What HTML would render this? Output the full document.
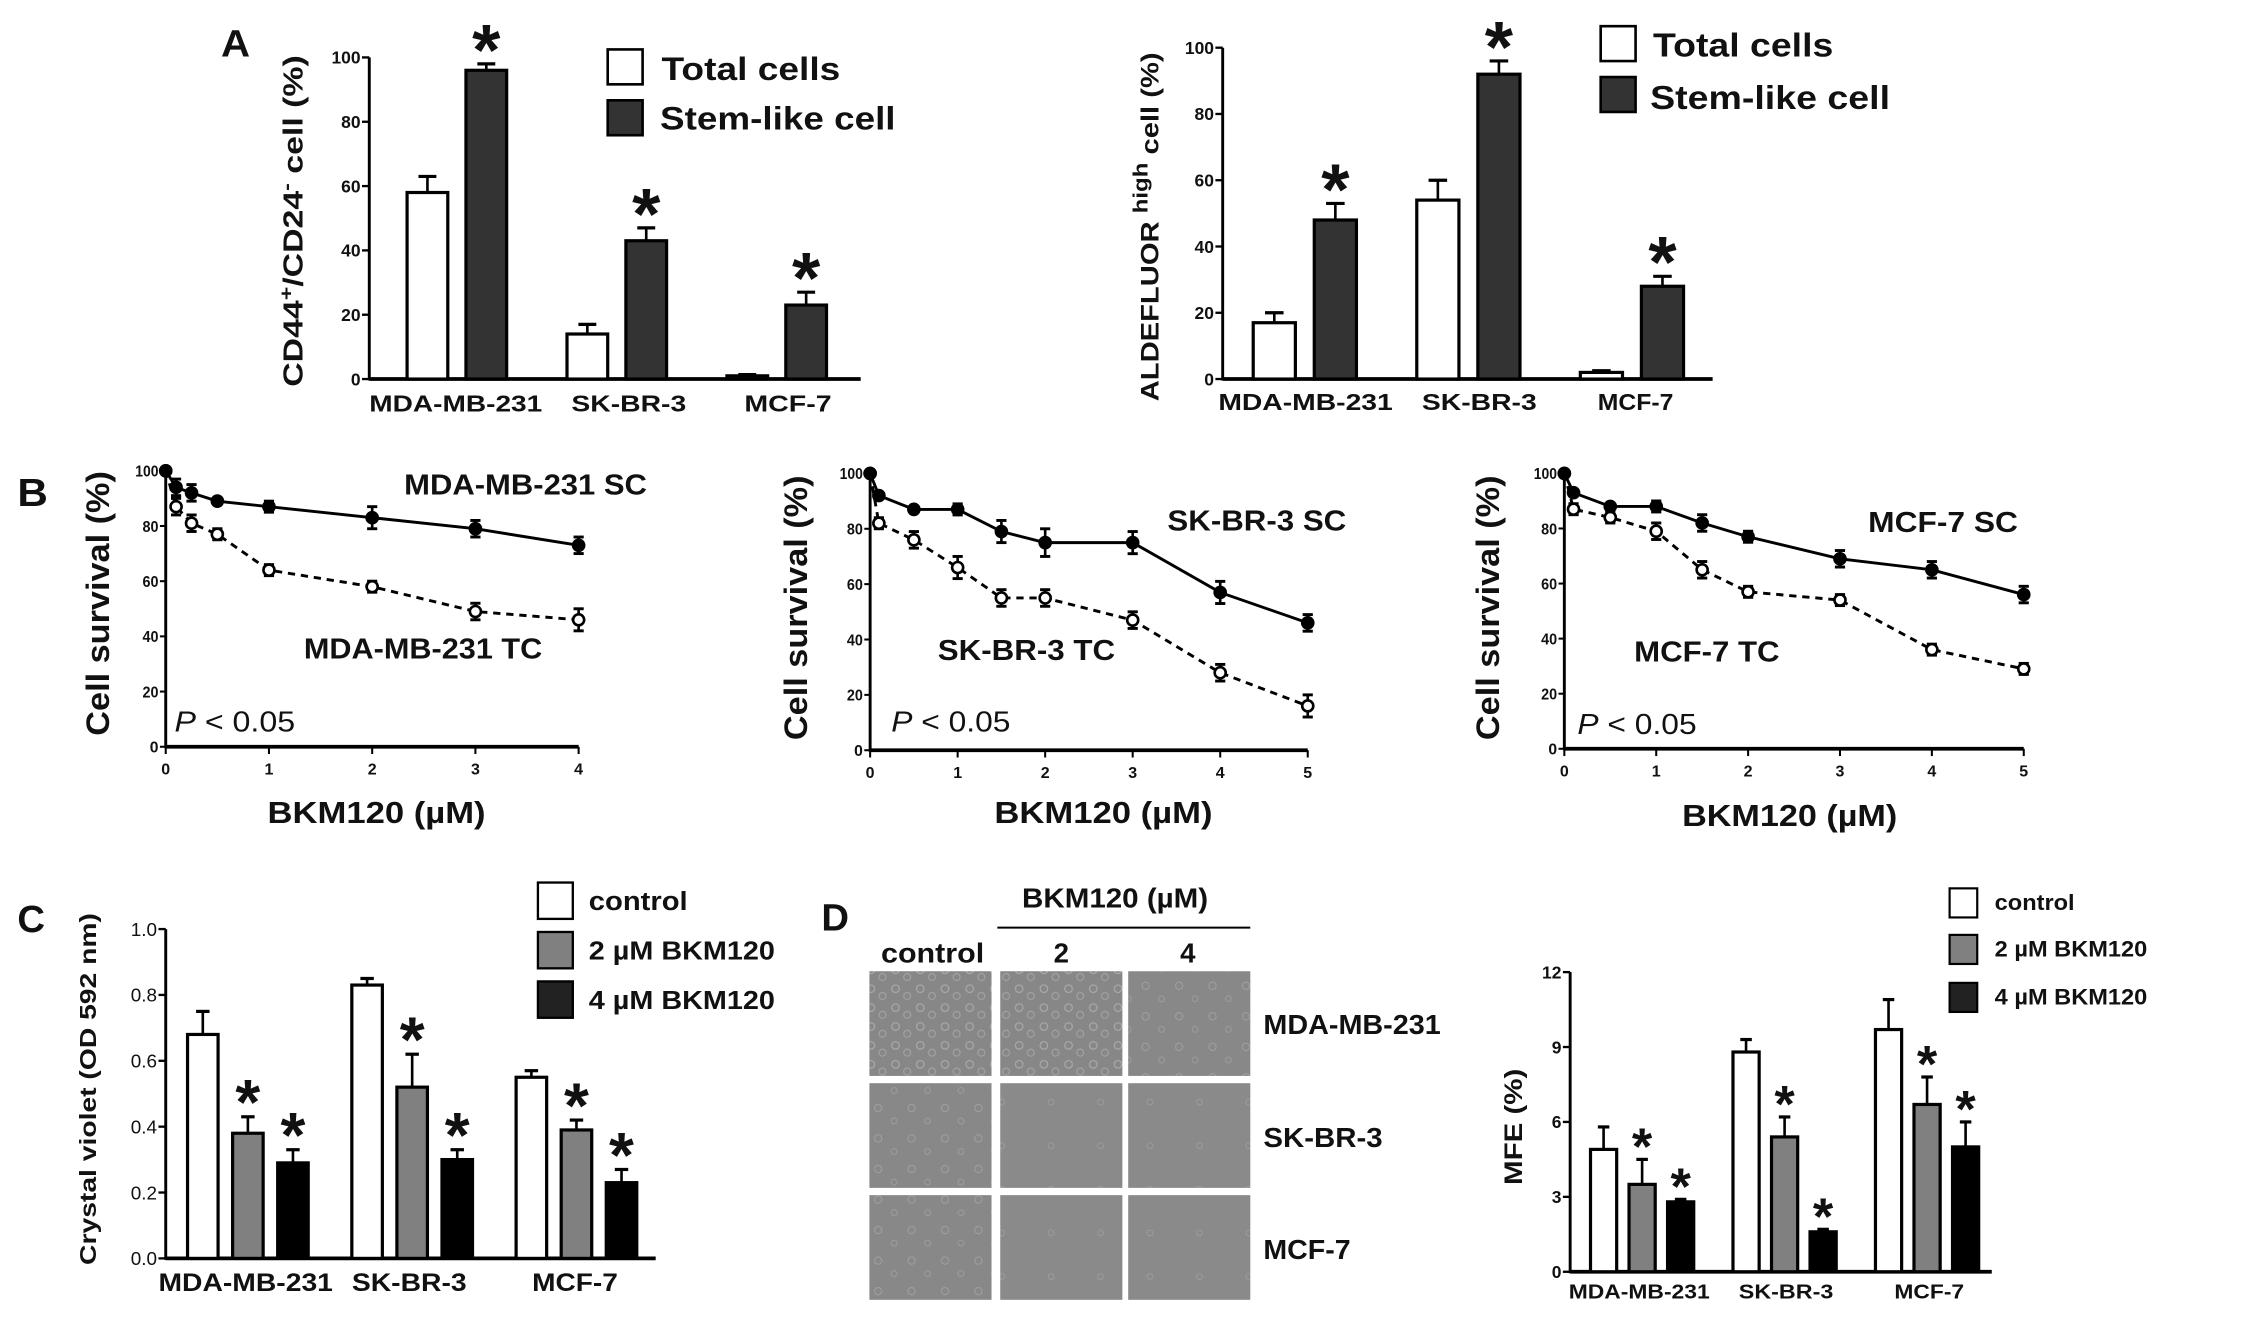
<!DOCTYPE html>
<html><head><meta charset="utf-8">
<style>
html,body{margin:0;padding:0;background:#fff;}
svg{display:block;}
text{font-family:"Liberation Sans",Arial,sans-serif;fill:#111;}
</style></head>
<body>
<svg id="fig" xmlns="http://www.w3.org/2000/svg" width="2268" height="1326" viewBox="0 0 1560 912" preserveAspectRatio="none">
<defs>
<pattern id="cellsA" width="17" height="13" patternUnits="userSpaceOnUse">
<rect width="17" height="13" fill="#878787"/>
<circle cx="4" cy="4" r="2.6" fill="none" stroke="#aaaaaa" stroke-width="0.8"/>
<circle cx="12" cy="9" r="2.4" fill="none" stroke="#a2a2a2" stroke-width="0.8"/>
</pattern>
<pattern id="cellsB" width="23" height="21" patternUnits="userSpaceOnUse">
<rect width="23" height="21" fill="#888888"/>
<circle cx="6" cy="6" r="2.5" fill="none" stroke="#a0a0a0" stroke-width="0.7"/>
<circle cx="17" cy="15" r="2" fill="none" stroke="#9c9c9c" stroke-width="0.7"/>
</pattern>
<pattern id="cellsC" width="34" height="30" patternUnits="userSpaceOnUse">
<rect width="34" height="30" fill="#8a8a8a"/>
<circle cx="9" cy="8" r="2" fill="none" stroke="#9e9e9e" stroke-width="0.6"/>
</pattern>
</defs>
</svg>
<script>
// ---------- DATA ----------
const catNames = ['MDA-MB-231','SK-BR-3','MCF-7'];
const aTicks = [0,20,40,60,80,100];
const a1Total = [58,14,1];
const a1TotalErr = [5,3,0.4];
const a1Stem = [96,43,23];
const a1StemErr = [2,4,4];
const a2Total = [17,54,2];
const a2TotalErr = [3,6,0.5];
const a2Stem = [48,92,28];
const a2StemErr = [5,4,3];

const bTicksY = [0,20,40,60,80,100];
const b1Dose = [0,0.1,0.25,0.5,1,2,3,4];
const b1SC = [100,94,92,89,87,83,79,73];
const b1SCErr = [1,3,3,1,2,4,3,3];
const b1TC = [100,87,81,77,64,58,49,46];
const b1TCErr = [1,3,3,2,2,2,3,4];
const b1TicksX = [0,1,2,3,4];
const b2Dose = [0,0.1,0.5,1,1.5,2,3,4,5];
const b2SC = [100,92,87,87,79,75,75,57,46];
const b2SCErr = [1,1,1,2,4,5,4,4,3];
const b2TC = [100,82,76,66,55,55,47,28,16];
const b2TCErr = [1,2,3,4,3,3,3,3,4];
const b3Dose = [0,0.1,0.5,1,1.5,2,3,4,5];
const b3SC = [100,93,88,88,82,77,69,65,56];
const b3SCErr = [1,1,1,2,3,2,3,3,3];
const b3TC = [100,87,84,79,65,57,54,36,29];
const b3TCErr = [1,2,2,3,3,2,2,2,2];
const b23TicksX = [0,1,2,3,4,5];

const cTicks = [0,0.2,0.4,0.6,0.8,1.0];
const cTickLabels = ['0.0','0.2','0.4','0.6','0.8','1.0'];
const cControl = [0.68,0.83,0.55];
const cControlErr = [0.07,0.02,0.02];
const c2uM = [0.38,0.52,0.39];
const c2uMErr = [0.05,0.10,0.03];
const c4uM = [0.29,0.30,0.23];
const c4uMErr = [0.04,0.03,0.04];

const dTicks = [0,3,6,9,12];
const dControl = [4.9,8.8,9.7];
const dControlErr = [0.9,0.5,1.2];
const d2uM = [3.5,5.4,6.7];
const d2uMErr = [1.0,0.8,1.1];
const d4uM = [2.8,1.6,5.0];
const d4uMErr = [0.1,0.1,1.0];

// ---------- HELPERS ----------
const NS = 'http://www.w3.org/2000/svg';
const svg = document.getElementById('fig');
function mk(tag, attrs, parent){
  const e = document.createElementNS(NS, tag);
  for (const k in attrs) e.setAttribute(k, attrs[k]);
  (parent || svg).appendChild(e);
  return e;
}
function txt(parent, name, str, x, y, size, o){
  o = o || {};
  const a = {x:x, y:y, 'font-size':size, 'font-weight':o.w || 'bold'};
  if (o.anchor) a['text-anchor'] = o.anchor;
  if (o.len) { a.textLength = o.len; a.lengthAdjust = 'spacingAndGlyphs'; }
  if (o.rot) a.transform = 'rotate(-90 ' + x + ' ' + y + ')';
  if (o.italic) a['font-style'] = 'italic';
  const t = mk('text', a, parent);
  
  
  t.textContent = str;
  return t;
}
function group(name){
  const g = mk('g', {});
  
  
  return g;
}
function line(parent, name, x1, y1, x2, y2, w, dash){
  const a = {x1:x1, y1:y1, x2:x2, y2:y2, stroke:'#000', 'stroke-width':w || 2};
  if (dash) a['stroke-dasharray'] = dash;
  const l = mk('line', a, parent);
  
  
  return l;
}

// ---------- BAR CHART ----------
function barChart(name, cfg, series){
  const g = group(name);
  const ys = v => cfg.y0 - v / cfg.max * (cfg.y0 - cfg.yTop);
  const xb = (gi, si) => cfg.axisX + cfg.offset + gi * cfg.groupStep + si * cfg.barStep;
  line(g, 'y-axis', cfg.axisX, cfg.y0 + 1, cfg.axisX, cfg.yTop, 2);
  line(g, 'x-axis', cfg.axisX, cfg.y0, cfg.axisEnd, cfg.y0, 2.6);
  cfg.ticks.forEach((t, i) => {
    const y = ys(t);
    line(g, 'y-tick', cfg.axisX - 5, y, cfg.axisX, y, 1.6);
    txt(g, 'y-tick-label', cfg.tickLabels ? cfg.tickLabels[i] : String(t), cfg.axisX - 6, y + cfg.tickSize * 0.36, cfg.tickSize, {anchor:'end', w:cfg.tickWeight || 'bold'});
  });
  series.forEach((s, si) => {
    s.vals.forEach((v, gi) => {
      const x = xb(gi, si);
      const yt = ys(v);
      const ye = ys(v + s.errs[gi]);
      const cx = x + cfg.barW / 2;
      line(g, 'error-bar', cx, yt, cx, ye, 1.8);
      line(g, 'error-cap', cx - cfg.barW * 0.22, ye, cx + cfg.barW * 0.22, ye, 2.2);
      const r = mk('rect', {x:x, y:yt, width:cfg.barW, height:Math.max(cfg.y0 - yt, 1.5), fill:s.fill, stroke:'#000', 'stroke-width':2.2}, g);
      
      
      if (s.stars) {
        txt(g, 'significance-star', '*', cx, ye - cfg.starGap + cfg.starSize * 0.57, cfg.starSize, {anchor:'middle'});
      }
    });
  });
  catNames.forEach((c, i) => {
    txt(g, 'category-label', c, cfg.catX[i], cfg.catY, cfg.catSize, {len:cfg.catW[i]});
  });
  return g;
}

// ---------- LINE CHART ----------
function lineChart(name, cfg, dose, sc, scErr, tc, tcErr, xt){
  const g = group(name);
  const xs = d => cfg.axisX + d / cfg.xmax * (cfg.xEnd - cfg.axisX);
  const ys = v => cfg.y0 - v / 100 * (cfg.y0 - cfg.yTop);
  line(g, 'y-axis', cfg.axisX, cfg.y0 + 1, cfg.axisX, cfg.yTop, 2);
  line(g, 'x-axis', cfg.axisX, cfg.y0, cfg.xEnd, cfg.y0, 2.6);
  bTicksY.forEach(t => {
    const y = ys(t);
    line(g, 'y-tick', cfg.axisX - 4, y, cfg.axisX, y, 1.4);
    txt(g, 'y-tick-label', String(t), cfg.axisX - 5, y + 4, 11, {anchor:'end', len: t === 100 ? 16 : (t === 0 ? 6 : 11)});
  });
  xt.forEach(t => {
    const x = xs(t);
    line(g, 'x-tick', x, cfg.y0, x, cfg.y0 + 5, 1.4);
    txt(g, 'x-tick-label', String(t), x, cfg.y0 + 19, 11, {anchor:'middle'});
  });
  const drawSeries = (vals, errs, dash, open, key) => {
    const pts = dose.map((d, i) => xs(d) + ',' + ys(vals[i])).join(' ');
    const pl = mk('polyline', {points:pts, fill:'none', stroke:'#000', 'stroke-width':2, 'stroke-dasharray':dash || 'none'}, g);
    
    
    dose.forEach((d, i) => {
      const x = xs(d), y = ys(vals[i]);
      const y1 = ys(vals[i] + errs[i]), y2 = ys(vals[i] - errs[i]);
      line(g, 'error-bar', x, y1, x, y2, 1.8);
      line(g, 'error-cap', x - 3.5, y1, x + 3.5, y1, 2);
      line(g, 'error-cap', x - 3.5, y2, x + 3.5, y2, 2);
      const c = mk('circle', {cx:x, cy:y, r:3.8, fill: open ? '#fff' : '#000', stroke:'#000', 'stroke-width':1.8}, g);
      
      
    });
  };
  drawSeries(tc, tcErr, '5,4', true, 'tc');
  drawSeries(sc, scErr, null, false, 'sc');
  return g;
}

// ---------- PANEL A ----------
txt(svg, 'panel-label-a', 'A', 152, 39, 26, {len:20});
const a1 = barChart('chart-a-cd44', {axisX:254, axisEnd:592, y0:260.7, yTop:39.5, max:100, ticks:aTicks, tickSize:12,
  offset:26, barStep:40.5, groupStep:110, barW:28, starGap:21, starSize:50,
  catX:[254,393,512], catW:[119,79,60], catY:283, catSize:16},
  [{key:'total', vals:a1Total, errs:a1TotalErr, fill:'#fff', stars:false},
   {key:'stem', vals:a1Stem, errs:a1StemErr, fill:'#333', stars:true}]);
(function(){
  const t = txt(a1, 'y-axis-title', '', 208, 266, 19, {rot:true, len:228});
  t.innerHTML = 'CD44<tspan baseline-shift="super" font-size="13">+</tspan>/CD24<tspan baseline-shift="super" font-size="13">-</tspan> cell (%)';
})();
(function(){
  const g = group('legend-a1');
  let r = mk('rect', {x:418, y:34, width:24, height:24, fill:'#fff', stroke:'#000', 'stroke-width':1.8}, g);
  
  
  r = mk('rect', {x:418, y:69, width:24, height:24, fill:'#333', stroke:'#000', 'stroke-width':1.8}, g);
  
  
  txt(g, 'legend-label-total', 'Total cells', 455, 55, 22, {len:123});
  txt(g, 'legend-label-stem', 'Stem-like cell', 454, 89, 22, {len:162});
})();

const a2 = barChart('chart-a-aldefluor', {axisX:841, axisEnd:1178, y0:260.7, yTop:32.8, max:100, ticks:aTicks, tickSize:12,
  offset:21, barStep:42, groupStep:112.5, barW:29, starGap:21, starSize:50,
  catX:[838,978,1099], catW:[120,79,52], catY:282, catSize:16},
  [{key:'total', vals:a2Total, errs:a2TotalErr, fill:'#fff', stars:false},
   {key:'stem', vals:a2Stem, errs:a2StemErr, fill:'#333', stars:true}]);
(function(){
  const t = txt(a2, 'y-axis-title', '', 797, 276, 17, {rot:true, len:240});
  t.innerHTML = 'ALDEFLUOR <tspan baseline-shift="super" font-size="14">high</tspan> cell (%)';
})();
(function(){
  const g = group('legend-a2');
  let r = mk('rect', {x:1101, y:18, width:24, height:24, fill:'#fff', stroke:'#000', 'stroke-width':1.8}, g);
  
  
  r = mk('rect', {x:1101, y:53, width:24, height:24, fill:'#333', stroke:'#000', 'stroke-width':1.8}, g);
  
  
  txt(g, 'legend-label-total', 'Total cells', 1137, 39, 23, {len:124});
  txt(g, 'legend-label-stem', 'Stem-like cell', 1135, 75, 23, {len:165});
})();

// ---------- PANEL B ----------
txt(svg, 'panel-label-b', 'B', 12, 348, 27, {len:21});
const b1 = lineChart('chart-b-mda', {axisX:114, xEnd:398, xmax:4, y0:513.6, yTop:323.8}, b1Dose, b1SC, b1SCErr, b1TC, b1TCErr, b1TicksX);
txt(b1, 'y-axis-title', 'Cell survival (%)', 75, 506, 22, {rot:true, len:182});
txt(b1, 'series-label-sc', 'MDA-MB-231 SC', 278, 340, 20, {len:167});
txt(b1, 'series-label-tc', 'MDA-MB-231 TC', 209, 453, 20, {len:164});
(function(){ const t = txt(b1, 'p-value', '', 120, 503, 20, {w:'normal', len:83}); t.innerHTML = '<tspan font-style="italic">P</tspan> &lt; 0.05'; })();
txt(b1, 'x-axis-title', 'BKM120 (µM)', 184, 566, 21, {len:150});

const b2 = lineChart('chart-b-skbr3', {axisX:598.5, xEnd:899.5, xmax:5, y0:516, yTop:325.6}, b2Dose, b2SC, b2SCErr, b2TC, b2TCErr, b23TicksX);
txt(b2, 'y-axis-title', 'Cell survival (%)', 555, 509, 22, {rot:true, len:182});
txt(b2, 'series-label-sc', 'SK-BR-3 SC', 803, 365, 20, {len:123});
txt(b2, 'series-label-tc', 'SK-BR-3 TC', 645, 454, 20, {len:122});
(function(){ const t = txt(b2, 'p-value', '', 613, 503, 20, {w:'normal', len:82}); t.innerHTML = '<tspan font-style="italic">P</tspan> &lt; 0.05'; })();
txt(b2, 'x-axis-title', 'BKM120 (µM)', 684, 566, 21, {len:150});

const b3 = lineChart('chart-b-mcf7', {axisX:1076, xEnd:1392, xmax:5, y0:515, yTop:325.6}, b3Dose, b3SC, b3SCErr, b3TC, b3TCErr, b23TicksX);
txt(b3, 'y-axis-title', 'Cell survival (%)', 1031, 509, 22, {rot:true, len:182});
txt(b3, 'series-label-sc', 'MCF-7 SC', 1285, 366, 20, {len:103});
txt(b3, 'series-label-tc', 'MCF-7 TC', 1124, 455, 20, {len:100});
(function(){ const t = txt(b3, 'p-value', '', 1085, 505, 20, {w:'normal', len:82}); t.innerHTML = '<tspan font-style="italic">P</tspan> &lt; 0.05'; })();
txt(b3, 'x-axis-title', 'BKM120 (µM)', 1157, 568, 21, {len:148});

// ---------- PANEL C ----------
txt(svg, 'panel-label-c', 'C', 12, 641, 26, {len:19});
const cc = barChart('chart-c-crystal-violet', {axisX:114, axisEnd:451, y0:865.5, yTop:639, max:1.0, ticks:cTicks, tickLabels:cTickLabels, tickSize:13, tickWeight:'normal',
  offset:15, barStep:31, groupStep:113, barW:21, starGap:20, starSize:44,
  catX:[109,242,366], catW:[120,79,59], catY:888, catSize:17},
  [{key:'control', vals:cControl, errs:cControlErr, fill:'#fff', stars:false},
   {key:'2um', vals:c2uM, errs:c2uMErr, fill:'#808080', stars:true},
   {key:'4um', vals:c4uM, errs:c4uMErr, fill:'#000', stars:true}]);
txt(cc, 'y-axis-title', 'Crystal violet (OD 592 nm)', 66, 870, 16, {rot:true, len:242});
(function(){
  const g = group('legend-c');
  const fills = ['#fff','#808080','#222'];
  const labels = ['control','2 µM BKM120','4 µM BKM120'];
  const lens = [68,128,128];
  const ys = [607,641,675];
  fills.forEach((f, i) => {
    const r = mk('rect', {x:370, y:ys[i], width:24, height:25, fill:f, stroke:'#000', 'stroke-width':1.6}, g);
    
    
    txt(g, 'legend-label', labels[i], 405, ys[i] + 19, 18, {len:lens[i]});
  });
})();

// ---------- PANEL D (images) ----------
txt(svg, 'panel-label-d', 'D', 565, 640, 26, {len:19});
(function(){
  const g = group('colony-images');
  txt(g, 'dose-header', 'BKM120 (µM)', 703, 624, 19, {len:128});
  line(g, 'dose-header-line', 686, 638, 860, 638, 1.4);
  txt(g, 'column-label-control', 'control', 606, 662, 19, {len:71});
  txt(g, 'column-label-2', '2', 730, 662, 19, {anchor:'middle'});
  txt(g, 'column-label-4', '4', 817, 662, 19, {anchor:'middle'});
  const colX = [598, 688, 776];
  const rowY = [668, 745, 822];
  const pats = [['cellsA','cellsA','cellsB'],['cellsB','cellsC','cellsC'],['cellsB','cellsC','cellsC']];
  rowY.forEach((y, ri) => {
    colX.forEach((x, ci) => {
      const r = mk('rect', {x:x, y:y, width:84, height:72, fill:'url(#' + pats[ri][ci] + ')'}, g);
      
      
    });
  });
  txt(g, 'row-label-mda', 'MDA-MB-231', 869, 711, 19, {len:122});
  txt(g, 'row-label-skbr3', 'SK-BR-3', 869, 789, 19, {len:82});
  txt(g, 'row-label-mcf7', 'MCF-7', 869, 866, 19, {len:60});
})();

// ---------- PANEL D (MFE chart) ----------
const dd = barChart('chart-d-mfe', {axisX:1080, axisEnd:1370, y0:874.7, yTop:668.6, max:12, ticks:dTicks, tickSize:12,
  offset:14, barStep:26.5, groupStep:98, barW:18, starGap:17, starSize:36,
  catX:[1079,1196,1303], catW:[97,65,48], catY:893, catSize:14},
  [{key:'control', vals:dControl, errs:dControlErr, fill:'#fff', stars:false},
   {key:'2um', vals:d2uM, errs:d2uMErr, fill:'#808080', stars:true},
   {key:'4um', vals:d4uM, errs:d4uMErr, fill:'#000', stars:true}]);
txt(dd, 'y-axis-title', 'MFE (%)', 1047, 815, 17, {rot:true, len:80});
(function(){
  const g = group('legend-d');
  const fills = ['#fff','#808080','#222'];
  const labels = ['control','2 µM BKM120','4 µM BKM120'];
  const lens = [55,105,105];
  const ys = [611,643,676];
  fills.forEach((f, i) => {
    const r = mk('rect', {x:1341, y:ys[i], width:19, height:20, fill:f, stroke:'#000', 'stroke-width':1.5}, g);
    
    
    txt(g, 'legend-label', labels[i], 1372, ys[i] + 15, 15, {len:lens[i]});
  });
})();
</script>
</body></html>
